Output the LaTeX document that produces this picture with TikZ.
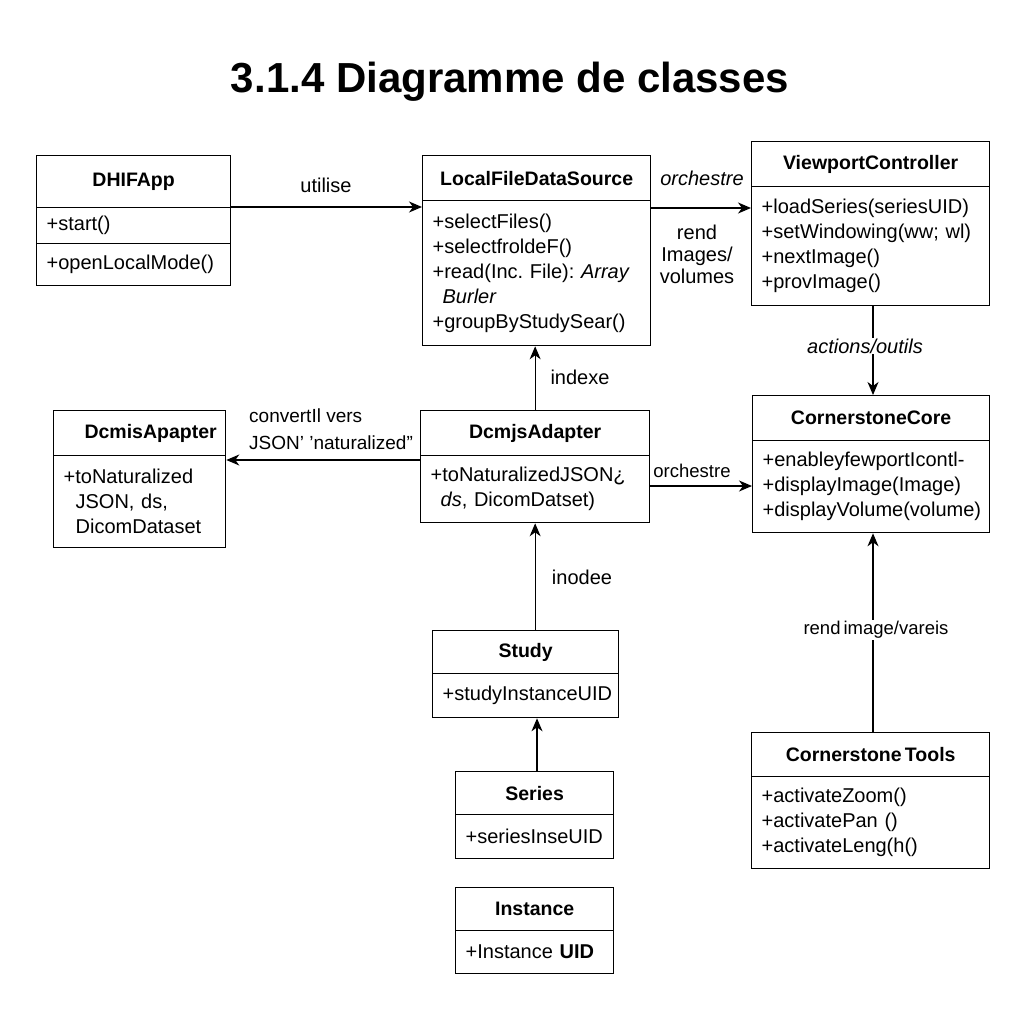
\documentclass[tikz,border=0pt]{standalone}
\usepackage{fontspec}
\setmainfont{Liberation Sans}
\usetikzlibrary{arrows.meta}
\frenchspacing
\begin{document}
\begin{tikzpicture}[x=1pt,y=-1pt,
  hdr/.style={draw, line width=1.3pt, anchor=north west, inner sep=0pt,
    font=\bfseries\fontsize{19.5}{22}\selectfont},
  bodybox/.style={draw, line width=1.3pt, anchor=north west, inner xsep=10pt, inner ysep=0pt,
    align=left, font=\fontsize{20}{25}\selectfont},
  lbl/.style={font=\fontsize{20}{22}\selectfont, inner sep=1pt},
  arr/.style={line width=1.2pt, -{Stealth[length=13pt,width=11pt,inset=4pt]}}]
\useasboundingbox (0,0) rectangle (1024,1024);
\fill[white] (0,0) rectangle (1024,1024);
\node[font=\bfseries\fontsize{42}{46}\selectfont] (title) at (510,82) {3.1.4 Diagramme de classes};

% DHIFApp
\node[hdr, minimum width=194pt, minimum height=52pt] (dhh) at (36,155) {DHIFApp};
\node[bodybox, minimum height=36pt, text width=174pt] (dhb1) at (36,207) {+start()};
\node[bodybox, minimum height=42pt, text width=174pt] (dhb2) at (36,243) {+openLocalMode()};

% LocalFileDataSource
\node[hdr, minimum width=228pt, minimum height=45pt] (lfh) at (422,155) {LocalFileDataSource};
\node[bodybox, minimum height=145pt, text width=208pt] (lfb) at (422,200)
  {+selectFiles()\\+selectfroldeF()\\+read(Inc. File): \textit{Array}\\\hspace*{10pt}\textit{Burler}\\+groupByStudySear()};

% ViewportController
\node[hdr, minimum width=238pt, minimum height=45pt] (vch) at (751,141) {ViewportController};
\node[bodybox, minimum height=119pt, text width=218pt] (vcb) at (751,186)
  {+loadSeries(seriesUID)\\+setWindowing(ww;\ wl)\\+nextImage()\\+provImage()};

% CornerstoneCore
\node[hdr, minimum width=237pt, minimum height=45pt] (cch) at (752,395) {CornerstoneCore};
\node[bodybox, minimum height=92pt, text width=217pt] (ccb) at (752,440)
  {+enableyfewportIcontl-\\+displayImage(Image)\\+displayVolume(volume)};

% DcmjsAdapter
\node[hdr, minimum width=229pt, minimum height=45pt] (djh) at (420,410) {DcmjsAdapter};
\node[bodybox, minimum height=67pt, text width=209pt] (djb) at (420,455)
  {+toNaturalizedJSON¿\\\hspace*{10pt}\textit{ds}, DicomDatset)};

% DcmisApapter
\node[hdr, minimum width=172pt, minimum height=45pt] (dmh) at (53,410) {\hspace*{22pt}DcmisApapter};
\node[bodybox, minimum height=92pt, text width=152pt] (dmb) at (53,455)
  {+toNaturalized\\\hspace*{12pt}JSON, ds,\\\hspace*{12pt}DicomDataset};

% Study
\node[hdr, minimum width=186pt, minimum height=43pt] (sth) at (432,630) {Study};
\node[bodybox, minimum height=44pt, text width=166pt] (stb) at (432,673) {+studyInstanceUID};

% Series
\node[hdr, minimum width=158pt, minimum height=43pt] (seh) at (455,771) {Series};
\node[bodybox, minimum height=44pt, text width=138pt] (seb) at (455,814) {+seriesInseUID};

% Instance
\node[hdr, minimum width=158pt, minimum height=43pt] (inh) at (455,887) {Instance};
\node[bodybox, minimum height=43pt, text width=138pt] (inb) at (455,930) {+Instance \textbf{UID}};

% CornerstoneTools
\node[hdr, minimum width=238pt, minimum height=44pt] (cth) at (751,732) {Cornerstone\,Tools};
\node[bodybox, minimum height=92pt, text width=218pt] (ctb) at (751,776)
  {+activateZoom()\\+activatePan ()\\+activateLeng(h()};

% connectors
\draw[arr] (dhb1.north east) -- (dhb1.north east -| lfb.west);
\node[lbl] (l1) at (326,185) {utilise};

\draw[arr] (lfb.east |- 0,208) -- (vcb.west |- 0,208);
\node[lbl, font=\itshape\fontsize{20}{22}\selectfont] (l2) at (702,178) {orchestre};
\node[lbl, align=center] (l3) at (697,254) {rend\\Images/\\volumes};

\draw[arr] (vcb.south -| 873,0) -- (cch.north -| 873,0);
\node[lbl, fill=white, font=\itshape\fontsize{20}{22}\selectfont] (l4) at (865,346) {actions/outils};

\draw[arr] (djh.north) -- (djh.north |- lfb.south);
\node[lbl] (l5) at (580,377) {indexe};

\draw[arr] (djb.west |- 0,460) -- (dmb.east |- 0,460);
\node[lbl, align=left, anchor=west, font=\fontsize{19}{27}\selectfont] (l6) at (248,429) {convertIl vers\\JSON' 'naturalized"};

\draw[arr] (djb.east |- 0,486) -- (ccb.west |- 0,486);
\node[lbl, font=\fontsize{18.5}{20}\selectfont] (l7) at (692,471) {orchestre};

\draw[arr] (sth.north -| djb.south) -- (djb.south);
\node[lbl] (l8) at (582,577) {inodee};

\draw[arr] (seh.north -| 537,0) -- (stb.south -| 537,0);

\draw[arr] (cth.north -| 873,0) -- (ccb.south -| 873,0);
\node[lbl, fill=white, font=\fontsize{18.5}{20}\selectfont] (l9) at (876,630) {rend\,image/vareis};
\end{tikzpicture}
\end{document}
